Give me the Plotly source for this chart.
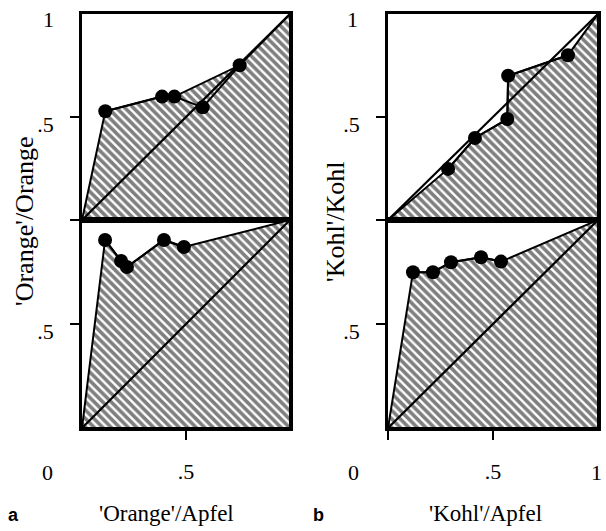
import plotly.graph_objects as go

# ---------------- data ----------------
# panel a, upper: 'Orange'/Orange vs 'Orange'/Apfel
a_top_x = [0.112, 0.385, 0.444, 0.580, 0.758]
a_top_y = [0.528, 0.599, 0.599, 0.547, 0.751]
a_top_hull = [0, 1, 2, 4]          # points on the hatched outline

# panel a, lower
a_bot_x = [0.111, 0.188, 0.216, 0.394, 0.490]
a_bot_y = [0.904, 0.803, 0.774, 0.904, 0.870]
a_bot_hull = [0, 1, 2, 3, 4]

# panel b, upper: 'Kohl'/Kohl vs 'Kohl'/Apfel
b_top_x = [0.286, 0.414, 0.568, 0.572, 0.857]
b_top_y = [0.248, 0.398, 0.490, 0.700, 0.800]
b_top_hull = [0, 1, 2, 3, 4]

# panel b, lower
b_bot_x = [0.119, 0.214, 0.300, 0.443, 0.538]
b_bot_y = [0.749, 0.749, 0.797, 0.821, 0.800]
b_bot_hull = [0, 1, 2, 3, 4]

diag = [0, 1]

y_tick_vals_top = [0, 0.5]
y_tick_text_top = ["", ".5"]
y_tick_vals_bot = [0.5]
y_tick_text_bot = [".5"]

panel_letters = ["a", "b"]
x_titles = ["'Orange'/Apfel", "'Kohl'/Apfel"]
y_titles = ["'Orange'/Orange", "'Kohl'/Kohl"]

SERIF = "Liberation Serif"
W, H = 606, 531

fig = go.Figure()

panels = [
    (a_top_x, a_top_y, a_top_hull, "x", "y"),
    (a_bot_x, a_bot_y, a_bot_hull, "x2", "y2"),
    (b_top_x, b_top_y, b_top_hull, "x3", "y3"),
    (b_bot_x, b_bot_y, b_bot_hull, "x4", "y4"),
]

for px, py, hull, xa, ya in panels:
    poly_x = [0] + [px[i] for i in hull] + [1, 1, 0]
    poly_y = [0] + [py[i] for i in hull] + [1, 0, 0]
    fig.add_trace(go.Scatter(
        x=poly_x, y=poly_y, mode="lines", fill="toself",
        fillcolor="white",
        fillpattern=dict(shape="\\", size=6, solidity=0.6,
                         fgcolor="black", bgcolor="white"),
        line=dict(color="black", width=2),
        xaxis=xa, yaxis=ya, hoverinfo="skip"))
    fig.add_trace(go.Scatter(
        x=diag, y=diag, mode="lines",
        line=dict(color="black", width=2.2),
        xaxis=xa, yaxis=ya, hoverinfo="skip"))
    fig.add_trace(go.Scatter(
        x=px, y=py, mode="lines+markers",
        line=dict(color="black", width=2),
        marker=dict(color="black", size=14, symbol="circle"),
        xaxis=xa, yaxis=ya, cliponaxis=False))

LX = [82 / W, 290 / W]
RX = [388 / W, 598 / W]
TY = [1 - 220 / H, 1 - 14 / H]
BY = [1 - 428 / H, 1 - 220 / H]

common = dict(range=[0, 1], showgrid=False, zeroline=False, showline=True,
              mirror=True, linecolor="black", linewidth=2.8,
              ticks="outside", ticklen=9, tickwidth=2, tickcolor="black",
              tickfont=dict(family=SERIF, size=22, color="black"),
              fixedrange=True)

def xax(domain, anchor, vals=None, text=None, show=False):
    d = dict(common, domain=domain, anchor=anchor)
    if show:
        d.update(tickmode="array", tickvals=vals, ticktext=text,
                 ticklabelstandoff=13)
    else:
        d.update(ticks="", showticklabels=False)
    return d

def yax(domain, anchor, vals, text):
    d = dict(common, domain=domain, anchor=anchor, tickmode="array",
             tickvals=vals, ticktext=text, ticklabelstandoff=12,
             ticklabelshift=7)
    return d

fig.update_layout(
    width=W, height=H, margin=dict(l=0, r=0, t=0, b=0),
    paper_bgcolor="white", plot_bgcolor="white", showlegend=False,
    xaxis=xax(LX, "y"),
    yaxis=yax(TY, "x", y_tick_vals_top, y_tick_text_top),
    xaxis2=xax(LX, "y2", [0.5], [".5"], show=True),
    yaxis2=yax(BY, "x2", y_tick_vals_bot, y_tick_text_bot),
    xaxis3=xax(RX, "y3"),
    yaxis3=yax(TY, "x3", y_tick_vals_top, y_tick_text_top),
    xaxis4=xax(RX, "y4", [0, 0.5], ["", ".5"], show=True),
    yaxis4=yax(BY, "x4", y_tick_vals_bot, y_tick_text_bot),
)

def ann(text, x, y, size=22, family=SERIF, angle=0, bold=False):
    fig.add_annotation(
        text=f"<b>{text}</b>" if bold else text,
        x=x / W, y=1 - y / H, xref="paper", yref="paper",
        showarrow=False, textangle=angle,
        font=dict(family=family, size=size, color="black"),
        xanchor="center", yanchor="middle")

# tick labels without tick marks
ann("1", 48, 20)
ann("1", 352, 20)
ann("0", 47, 472)
ann("0", 353, 472)
ann("1", 596, 472)

# axis titles
ann(y_titles[0], 24, 221, size=26, angle=-90)
ann(y_titles[1], 336, 222, size=26, angle=-90)
ann(x_titles[0], 166, 513, size=23)
ann(x_titles[1], 485, 513, size=23)

# panel letters
ann(panel_letters[0], 13, 515, size=18, family="Liberation Sans", bold=True)
ann(panel_letters[1], 318, 515, size=18, family="Liberation Sans", bold=True)

fig.write_html(
    "out.html",
    config={"displayModeBar": False},
    post_script="document.body.style.margin='0';document.body.style.overflow='hidden';",
)
